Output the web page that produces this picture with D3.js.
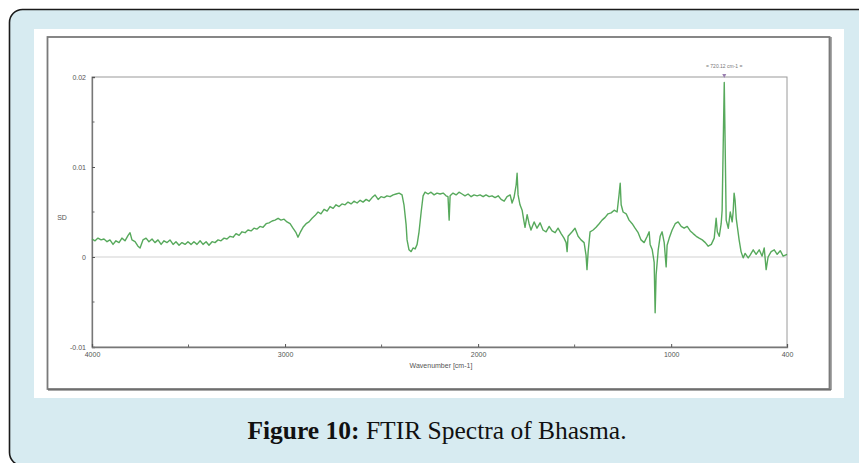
<!DOCTYPE html>
<html>
<head>
<meta charset="utf-8">
<script src="https://cdn.jsdelivr.net/npm/d3@7"></script>
<style>
html,body{margin:0;padding:0;background:#fff;}
svg{display:block;}
</style>
</head>
<body>
<svg id="chart" width="859" height="463"></svg>
<script>
// ---- data ----
const wavenumber = [4000,3984,3969,3953,3938,3922,3907,3891,3876,3860,3845,3829,3813,3803,3793,3777,3762,3751,3736,3720,3705,3689,3674,3658,3642,3627,3611,3596,3580,3565,3549,3534,3518,3503,3487,3472,3456,3440,3425,3409,3394,3378,3363,3347,3332,3316,3301,3285,3269,3254,3238,3223,3207,3192,3176,3161,3145,3130,3114,3098,3083,3067,3052,3036,3021,3005,2990,2974,2959,2943,2933,2922,2907,2891,2876,2860,2845,2829,2814,2798,2782,2767,2751,2736,2720,2705,2689,2674,2658,2643,2627,2611,2596,2580,2565,2549,2534,2518,2503,2487,2472,2456,2440,2425,2409,2394,2384,2373,2368,2358,2347,2337,2326,2316,2306,2295,2285,2275,2259,2244,2228,2213,2197,2181,2166,2156,2150,2145,2130,2114,2099,2083,2068,2052,2036,2021,2005,1990,1974,1959,1943,1928,1912,1896,1881,1865,1850,1834,1824,1814,1803,1798,1793,1783,1772,1762,1757,1746,1736,1726,1710,1695,1679,1664,1648,1632,1617,1601,1586,1570,1555,1544,1539,1534,1513,1498,1482,1467,1451,1441,1436,1430,1420,1404,1389,1373,1358,1342,1327,1311,1295,1280,1270,1264,1259,1249,1233,1218,1202,1187,1171,1156,1140,1124,1114,1109,1098,1088,1083,1078,1067,1057,1047,1036,1026,1021,1010,995,979,964,948,933,917,901,886,870,855,839,823,808,792,777,767,761,751,741,736,730,725,720,715,704,694,684,679,674,669,663,648,638,627,617,601,591,575,560,544,529,518,508,498,482,466,451,435,420,400];
const sd = [0.0020,0.0018,0.0021,0.0019,0.0020,0.0017,0.0019,0.0014,0.0018,0.0016,0.0021,0.0018,0.0024,0.0027,0.0019,0.0017,0.0012,0.0010,0.0019,0.0021,0.0017,0.0020,0.0016,0.0019,0.0014,0.0018,0.0016,0.0019,0.0014,0.0017,0.0013,0.0016,0.0014,0.0017,0.0014,0.0017,0.0014,0.0018,0.0014,0.0017,0.0013,0.0017,0.0016,0.0019,0.0018,0.0021,0.0020,0.0023,0.0022,0.0026,0.0024,0.0028,0.0027,0.0030,0.0029,0.0032,0.0031,0.0034,0.0033,0.0037,0.0038,0.0040,0.0041,0.0043,0.0041,0.0042,0.0039,0.0037,0.0032,0.0027,0.0022,0.0027,0.0033,0.0037,0.0039,0.0043,0.0046,0.0050,0.0048,0.0053,0.0051,0.0056,0.0054,0.0058,0.0056,0.0059,0.0058,0.0061,0.0059,0.0062,0.0060,0.0063,0.0061,0.0064,0.0062,0.0066,0.0069,0.0064,0.0067,0.0066,0.0068,0.0067,0.0069,0.0070,0.0071,0.0069,0.0058,0.0036,0.0019,0.0008,0.0006,0.0010,0.0009,0.0014,0.0028,0.0050,0.0068,0.0072,0.0070,0.0072,0.0069,0.0071,0.0070,0.0071,0.0068,0.0067,0.0041,0.0068,0.0071,0.0069,0.0072,0.0070,0.0068,0.0070,0.0067,0.0069,0.0068,0.0069,0.0067,0.0069,0.0067,0.0068,0.0066,0.0068,0.0064,0.0062,0.0067,0.0069,0.0060,0.0066,0.0080,0.0093,0.0069,0.0058,0.0052,0.0039,0.0033,0.0047,0.0037,0.0030,0.0039,0.0032,0.0038,0.0030,0.0028,0.0034,0.0029,0.0027,0.0032,0.0026,0.0021,0.0016,0.0006,0.0023,0.0028,0.0032,0.0023,0.0019,0.0016,0.0002,-0.0014,0.0006,0.0028,0.0030,0.0033,0.0037,0.0041,0.0044,0.0048,0.0049,0.0052,0.0050,0.0069,0.0082,0.0058,0.0050,0.0048,0.0041,0.0037,0.0032,0.0027,0.0019,0.0016,0.0023,0.0028,0.0014,0.0008,-0.0006,-0.0062,-0.0020,0.0008,0.0023,0.0028,0.0016,-0.0011,0.0013,0.0021,0.0030,0.0037,0.0039,0.0034,0.0032,0.0034,0.0029,0.0026,0.0023,0.0021,0.0019,0.0016,0.0012,0.0014,0.0021,0.0043,0.0028,0.0023,0.0037,0.0052,0.0130,0.0194,0.0119,0.0041,0.0032,0.0050,0.0039,0.0050,0.0071,0.0063,0.0043,0.0019,0.0006,-0.0001,0.0004,-0.0001,0.0002,0.0008,0.0003,0.0008,0.0001,0.0010,-0.0014,0.0000,0.0006,0.0008,0.0003,0.0007,0.0001,0.0003];
const xTickValues = [4000,3000,2000,1000,400];
const xMinorTicks = [3500,2500,1500];
const yTickValues = [0.02,0.01,0,-0.01];
const yMinorTicks = [0.015,0.005,-0.005];
const yTickLabels = ["0.02","0.01","0","-0.01"];
const peakLabel = "= 720.12 cm-1 =";
const yTitle = "SD";
const xTitle = "Wavenumber [cm-1]";
const captionBold = "Figure 10:";
const captionText = " FTIR Spectra of Bhasma.";

// ---- drawing ----
const svg = d3.select("#chart");

// page frame (rounded light-blue box)
svg.append("rect").attr("x",9.5).attr("y",9.5).attr("width",880).attr("height",456)
  .attr("rx",13).attr("fill","#d7ebf1").attr("stroke","#1a1a1a").attr("stroke-width",1.6);

// white image area
svg.append("rect").attr("x",34).attr("y",29).attr("width",810).attr("height",369).attr("fill","#ffffff");

// gray window frame
svg.append("rect").attr("x",47.5).attr("y",37).attr("width",782).attr("height",352)
  .attr("fill","none").attr("stroke","#7a7a7a").attr("stroke-width",1.8);
svg.append("line").attr("x1",48).attr("x2",831).attr("y1",390).attr("y2",390).attr("stroke","#555").attr("stroke-width",1);
svg.append("line").attr("x1",831).attr("x2",831).attr("y1",37).attr("y2",390).attr("stroke","#555").attr("stroke-width",1);

const x = d3.scaleLinear().domain([4000,400]).range([92,787]);
const y = d3.scaleLinear().domain([-0.01,0.02]).range([347,77]);

// plot box
svg.append("rect").attr("x",92).attr("y",77).attr("width",695).attr("height",270)
  .attr("fill","none").attr("stroke","#9a9a9a").attr("stroke-width",1);

// zero line
svg.append("line").attr("x1",92).attr("x2",787).attr("y1",y(0)).attr("y2",y(0))
  .attr("stroke","#d2d2d2").attr("stroke-width",1.2);

// axes
const fontTick = "Arial, 'Liberation Sans', sans-serif";
const yAxis = d3.axisLeft(y).tickValues(yTickValues).tickSize(-3).tickPadding(6)
  .tickFormat((d,i)=>yTickLabels[i]);
const gy = svg.append("g").attr("transform","translate(92,0)").call(yAxis);
gy.select(".domain").attr("stroke","#777").attr("stroke-width",1.3);
gy.selectAll(".tick line").attr("stroke","#555");
gy.selectAll("text").attr("font-size",7).attr("fill","#555").attr("font-family",fontTick);
gy.selectAll(".minor").data(yMinorTicks).enter().append("line")
  .attr("x1",0).attr("x2",2.5).attr("y1",d=>y(d)).attr("y2",d=>y(d)).attr("stroke","#666");

const xAxis = d3.axisBottom(x).tickValues(xTickValues).tickSize(-3).tickPadding(5)
  .tickFormat(d3.format("d"));
const gx = svg.append("g").attr("transform","translate(0,347)").call(xAxis);
gx.select(".domain").attr("stroke","#777").attr("stroke-width",1.3);
gx.selectAll(".tick line").attr("stroke","#555");
gx.selectAll("text").attr("font-size",7).attr("fill","#555").attr("font-family",fontTick);
gx.selectAll(".minor").data(xMinorTicks).enter().append("line")
  .attr("x1",d=>x(d)).attr("x2",d=>x(d)).attr("y1",0).attr("y2",-2.5).attr("stroke","#666");

// axis titles
svg.append("text").attr("x",62).attr("y",220).attr("text-anchor","middle")
  .attr("font-size",7).attr("fill","#555").attr("font-family",fontTick).text(yTitle);
svg.append("text").attr("x",441).attr("y",368).attr("text-anchor","middle")
  .attr("font-size",7).attr("fill","#555").attr("font-family",fontTick).text(xTitle);

// spectrum
const pts = wavenumber.map((w,i)=>[w,sd[i]]);
const line = d3.line().x(d=>x(d[0])).y(d=>y(d[1]));
svg.append("path").datum(pts).attr("d",line).attr("fill","none")
  .attr("stroke","#45a04a").attr("stroke-width",1.4).attr("stroke-linejoin","round").attr("opacity",0.9);

// peak marker & label
const iPeak = sd.indexOf(d3.max(sd));
const px = x(wavenumber[iPeak]);
svg.append("path").attr("d",`M${px-2},${y(0.02)-3}L${px+2},${y(0.02)-3}L${px},${y(0.02)+1}Z`).attr("fill","#9a7fb0");
svg.append("text").attr("x",px).attr("y",68).attr("text-anchor","middle")
  .attr("font-size",5).attr("fill","#777").attr("font-family",fontTick).text(peakLabel);

// caption
const cap = svg.append("text").attr("x",437).attr("y",439).attr("text-anchor","middle")
  .attr("font-family","'Liberation Serif', 'DejaVu Serif', serif").attr("font-size",25.5).attr("fill","#111");
cap.append("tspan").attr("font-weight","bold").text(captionBold);
cap.append("tspan").text(captionText);
</script>
</body>
</html>
